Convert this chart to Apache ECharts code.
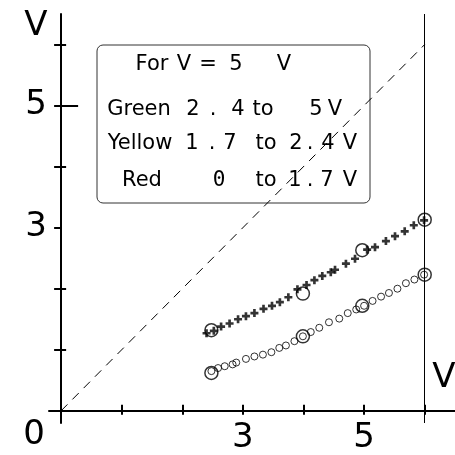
<!DOCTYPE html>
<html>
<head>
<meta charset="utf-8">
<script src="https://cdn.jsdelivr.net/npm/echarts@6/dist/echarts.min.js"></script>
<style>
  html, body { margin: 0; padding: 0; background: #fff; }
  #chart { width: 455px; height: 455px; }
</style>
</head>
<body>
<div id="chart"></div>
<script>
// upper trace (+ markers)
const upperX = [2.40, 2.52, 2.64, 2.78, 2.92, 3.05, 3.19, 3.34, 3.48, 3.61, 3.75, 3.90, 4.05, 4.18, 4.31, 4.45, 4.52, 4.70, 4.85, 5.05, 5.18, 5.36, 5.51, 5.67, 5.82, 5.99];
const upperY = [1.27, 1.31, 1.38, 1.43, 1.50, 1.55, 1.60, 1.67, 1.72, 1.78, 1.86, 1.99, 2.06, 2.14, 2.21, 2.27, 2.31, 2.41, 2.49, 2.64, 2.68, 2.78, 2.86, 2.94, 3.04, 3.12];
// lower trace (small circles)
const lowerX = [2.48, 2.59, 2.70, 2.83, 2.89, 3.05, 3.19, 3.33, 3.47, 3.60, 3.71, 3.85, 3.99, 4.12, 4.26, 4.42, 4.59, 4.73, 4.87, 5.00, 5.14, 5.28, 5.41, 5.55, 5.69, 5.83, 5.99];
const lowerY = [0.65, 0.70, 0.73, 0.76, 0.79, 0.85, 0.89, 0.92, 0.96, 1.03, 1.07, 1.14, 1.22, 1.29, 1.36, 1.45, 1.51, 1.60, 1.66, 1.72, 1.80, 1.87, 1.93, 2.00, 2.09, 2.15, 2.23];
// measured points (big circles)
const bigX = [2.48, 3.99, 4.97, 6.0];
const bigUpper = [1.32, 1.92, 2.63, 3.13];
const bigLower = [0.62, 1.22, 1.72, 2.23];
// y = x reference
const diagX = [0, 6];
const diagY = [0, 6];
// ticks and labels
const tickVals = [1, 2, 3, 4, 5, 6];
const labelVals = [3, 5];
const yRightShort = [1, 2, 4, 6];
const yRightLong = [5];
// legend box text
const boxRows = [
  ['For', 152, 65], ['V', 184, 65], ['=', 208, 65], ['5', 236, 65], ['V', 284, 65],
  ['Green', 139, 110], ['2', 193, 110], ['.', 213, 110], ['4', 238, 110], ['to', 263, 110], ['5', 316, 110], ['V', 335, 110],
  ['Yellow', 140, 144], ['1', 192, 144], ['.', 212, 144], ['7', 230, 144], ['to', 266, 144], ['2', 296, 144], ['.', 310, 144], ['4', 328, 144], ['V', 350, 144],
  ['Red', 142, 181], ['0', 219, 181], ['to', 266, 181], ['1', 295, 181], ['.', 310, 181], ['7', 327, 181], ['V', 350, 181]
];

const pairs = (xs, ys) => xs.map((x, i) => [x, ys[i]]);
const plus = 'path://M3,0h3v3h3v3h-3v3h-3v-3h-3v-3h3z';
const bigFont = 'DejaVu Sans';

const chart = echarts.init(document.getElementById('chart'));

const baseAxis = {
  type: 'value', min: -0.2, max: 6.5,
  splitLine: { show: false },
  axisLine: { onZero: true, onZeroAxisIndex: 0, lineStyle: { color: '#000', width: 2 } }
};

const textEl = (t, x, y, font) => ({
  type: 'text', z: 5,
  style: {
    text: t, x: x, y: y, font: font, fill: '#000',
    align: 'center', verticalAlign: 'middle', textAlign: 'center', textVerticalAlign: 'middle'
  }
});

const option = {
  backgroundColor: '#fff',
  animation: false,
  grid: { left: 49, right: 0, top: 14, bottom: 32, containLabel: false, outerBoundsMode: 'none' },
  xAxis: [
    Object.assign({}, baseAxis, {
      position: 'bottom',
      axisTick: { customValues: tickVals, length: 4, lineStyle: { color: '#000', width: 2 } },
      axisLabel: { customValues: labelVals, color: '#000', fontSize: 34, fontFamily: bigFont, margin: -2 }
    }),
    Object.assign({}, baseAxis, {
      position: 'bottom',
      axisLine: { show: false, onZero: true, onZeroAxisIndex: 0 },
      axisTick: { customValues: tickVals, inside: true, length: 6, lineStyle: { color: '#000', width: 2 } },
      axisLabel: { show: false }
    })
  ],
  yAxis: [
    Object.assign({}, baseAxis, {
      position: 'left',
      axisTick: { customValues: tickVals, length: 7, lineStyle: { color: '#000', width: 2 } },
      axisLabel: { customValues: labelVals, color: '#000', fontSize: 34, fontFamily: bigFont, margin: 2 }
    }),
    Object.assign({}, baseAxis, {
      position: 'left',
      axisLine: { show: false, onZero: true, onZeroAxisIndex: 0 },
      axisTick: { customValues: yRightShort, inside: true, length: 5, lineStyle: { color: '#000', width: 2 } },
      axisLabel: { show: false }
    }),
    Object.assign({}, baseAxis, {
      position: 'left',
      axisLine: { show: false, onZero: true, onZeroAxisIndex: 0 },
      axisTick: { customValues: yRightLong, inside: true, length: 17, lineStyle: { color: '#000', width: 2 } },
      axisLabel: { show: false }
    })
  ],
  graphic: [
    {
      type: 'rect', z: 1,
      shape: { x: 97, y: 45, width: 273, height: 158, r: 6 },
      style: { fill: 'none', stroke: '#333', lineWidth: 1 }
    }
  ].concat(boxRows.map(r => textEl(r[0], r[1], r[2],
    r[0] === '0' ? '21px "DejaVu Sans Mono"' : '21px "DejaVu Sans"'
  ))).concat([
    textEl('V', 36, 26, '34px "DejaVu Sans"'),
    textEl('V', 444, 378, '34px "DejaVu Sans"'),
    textEl('0', 34, 435, '34px "DejaVu Sans"')
  ]),
  series: [
    {
      type: 'line', data: pairs(diagX, diagY), symbol: 'none',
      lineStyle: { color: '#000', width: 1, type: [9, 7] },
      markLine: {
        silent: true, symbol: 'none', label: { show: false },
        lineStyle: { color: '#000', width: 1, type: 'solid' },
        data: [{ xAxis: 6 }]
      }
    },
    {
      type: 'scatter', data: pairs(upperX, upperY), symbol: plus, symbolSize: 8,
      itemStyle: { color: '#000' }
    },
    {
      type: 'scatter', data: pairs(lowerX, lowerY), symbol: 'circle', symbolSize: 7,
      itemStyle: { color: 'rgba(0,0,0,0)', borderColor: '#000', borderWidth: 1 }
    },
    {
      type: 'scatter', data: pairs(bigX, bigUpper), symbol: 'circle', symbolSize: 13, z: 3,
      itemStyle: { color: 'rgba(0,0,0,0)', borderColor: '#000', borderWidth: 1.5 }
    },
    {
      type: 'scatter', data: pairs(bigX, bigLower), symbol: 'circle', symbolSize: 13, z: 3,
      itemStyle: { color: 'rgba(0,0,0,0)', borderColor: '#000', borderWidth: 1.5 }
    }
  ]
};

chart.setOption(option);
</script>
</body>
</html>
